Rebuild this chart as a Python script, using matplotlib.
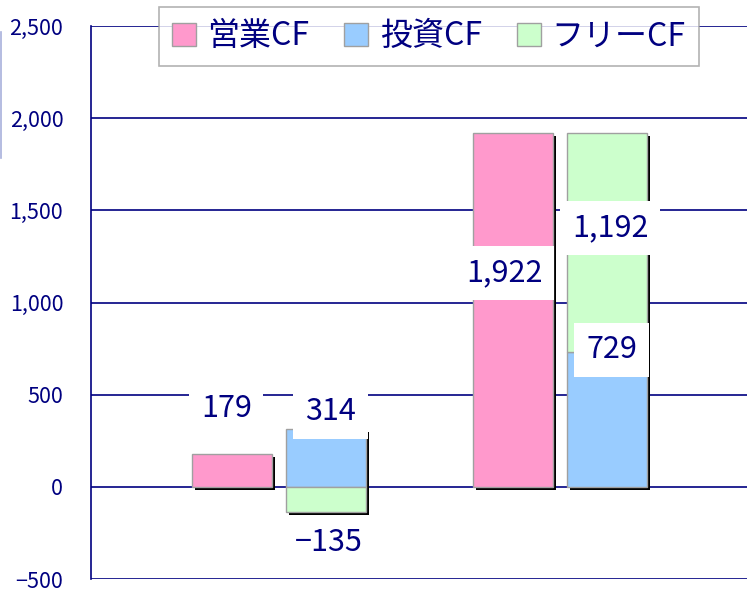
import numpy as np
import matplotlib
matplotlib.use("Agg")
import matplotlib.pyplot as plt
import matplotlib.transforms as mtransforms
from matplotlib.lines import Line2D
from matplotlib.patches import Patch

plt.rcParams['font.family'] = ['Noto Sans CJK JP', 'DejaVu Sans']

# data
series_names = ['営業CF', '投資CF', 'フリーCF']
operating = [179, 1922]
investing = [314, 729]
free = [-135, 1192]
y_ticks = [-500, 0, 500, 1000, 1500, 2000, 2500]

navy = '#000080'
pink = '#FF99CC'
blue = '#99CCFF'
green = '#CCFFCC'
edge = '#A0A0A0'

fig = plt.figure(figsize=(7.47, 5.90), dpi=100)
ax = fig.add_axes([91 / 747, 11 / 590, 656 / 747, 553 / 590])

x = np.arange(len(operating))
w = 0.285
off = 0.168
x_op = x - off
x_col = x + off

inv = np.array(investing)
fr = np.array(free)
fr_bottom = np.where(fr >= 0, inv, 0)
col_top = np.maximum(inv, np.where(fr >= 0, inv + fr, inv))
col_bot = np.minimum(0, fr)

# drop shadows
shadow_tr = ax.transData + mtransforms.ScaledTranslation(3 / 100, -3 / 100, fig.dpi_scale_trans)
sh1 = ax.bar(x_op, operating, w, color='black', zorder=2)
sh2 = ax.bar(x_col, col_top - col_bot, w, bottom=col_bot, color='black', zorder=2)
for p in list(sh1) + list(sh2):
    p.set_transform(shadow_tr)

ax.bar(x_op, operating, w, color=pink, edgecolor=edge, linewidth=1, zorder=3)
ax.bar(x_col, investing, w, color=blue, edgecolor=edge, linewidth=1, zorder=3)
ax.bar(x_col, free, w, bottom=fr_bottom, color=green, edgecolor=edge, linewidth=1, zorder=3)

# data labels (anchor positions tuned to the reference layout)
label_kw = dict(ha='center', va='center', fontsize=22, color=navy, zorder=5,
                bbox=dict(boxstyle='square,pad=0.38', fc='white', ec='none'))
op_label_y = [423, 1160]
inv_label_y = [407, 743]
free_label_y = [-304, 1404]
op_label_dx = [-0.02, -0.03]
for i in range(len(x)):
    ax.text(x_op[i] + op_label_dx[i], op_label_y[i], f'{operating[i]:,}', **label_kw)
    ax.text(x_col[i] + 0.015, inv_label_y[i], f'{investing[i]:,}', **label_kw)
    ax.text(x_col[i] + 0.01, free_label_y[i], f'{free[i]:,}'.replace('-', '\u2212'), **label_kw)

ax.set_xlim(-0.669, 1.665)
ax.set_ylim(-500, 2500)
ax.set_yticks(y_ticks)
ax.set_yticklabels([f'{t:,}'.replace('-', '\u2212') for t in y_ticks])
ax.set_xticks([])
ax.tick_params(axis='y', length=0, pad=20, labelsize=15.5, labelcolor=navy)
ax.yaxis.grid(True, color=navy, linewidth=1.2, zorder=1)
ax.set_axisbelow(True)
for s in ['top', 'right', 'bottom']:
    ax.spines[s].set_visible(False)
ax.spines['left'].set_color(navy)
ax.spines['left'].set_linewidth(1.2)

handles = [Patch(facecolor=c, edgecolor=edge) for c in (pink, blue, green)]
leg = fig.legend(handles, series_names, loc='upper center', bbox_to_anchor=(429 / 747, 1 - 7 / 590),
                 borderaxespad=0, ncol=3, fontsize=23, frameon=True, fancybox=False, edgecolor=edge,
                 handlelength=0.75, handleheight=0.75, handletextpad=0.35, columnspacing=1.1,
                 borderpad=0.42, labelcolor=navy)
leg.get_frame().set_linewidth(1.2)

fig.add_artist(Line2D([1.5 / 747, 1.5 / 747], [1 - 32 / 590, 1 - 158 / 590], color='#A8B0DC', linewidth=1.2))

fig.savefig('out.png', dpi=100)
